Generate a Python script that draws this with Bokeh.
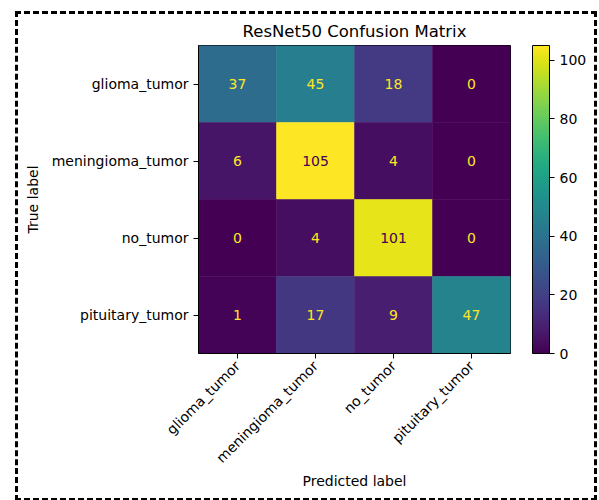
import math
from bokeh.plotting import figure
from bokeh.models import ColumnDataSource, LinearColorMapper, ColorBar, FixedTicker
from bokeh.palettes import Viridis256
from bokeh.embed import file_html
from bokeh.resources import INLINE

# Class names (rows = true label, columns = predicted label)
classes = ["glioma_tumor", "meningioma_tumor", "no_tumor", "pituitary_tumor"]

# Confusion matrix counts, one list per true class
row_glioma = [37, 45, 18, 0]
row_meningioma = [6, 105, 4, 0]
row_no_tumor = [0, 4, 101, 0]
row_pituitary = [1, 17, 9, 47]
matrix = [row_glioma, row_meningioma, row_no_tumor, row_pituitary]

colorbar_ticks = [0, 20, 40, 60, 80, 100]

FONT = "DejaVu Sans"

vmax = max(max(r) for r in matrix)
vmin = min(min(r) for r in matrix)
mapper = LinearColorMapper(palette=Viridis256, low=vmin, high=vmax)
thresh = (vmax + vmin) / 2.0

xs, ys, vals, labels, text_colors = [], [], [], [], []
for i, true_cls in enumerate(classes):
    for j, pred_cls in enumerate(classes):
        v = matrix[i][j]
        xs.append(pred_cls)
        ys.append(true_cls)
        vals.append(v)
        labels.append(str(v))
        text_colors.append(Viridis256[0] if v > thresh else Viridis256[-1])

src = ColumnDataSource(dict(x=xs, y=ys, v=vals, label=labels, tc=text_colors))

p = figure(width=582, height=490,
           x_range=classes, y_range=list(reversed(classes)),
           output_backend="svg", toolbar_location=None,
           title="ResNet50 Confusion Matrix",
           min_border_left=180, min_border_right=90,
           min_border_top=31, min_border_bottom=151,
           styles={"margin-left": "15px", "margin-top": "11px",
                   "border": "3px dashed black"})

cell_color = {"field": "v", "transform": mapper}
p.rect(x="x", y="y", width=1, height=1, source=src,
       fill_color=cell_color, line_color=cell_color, line_width=0.5)
p.text(x="x", y="y", text="label", source=src, text_color="tc",
       text_align="center", text_baseline="middle",
       text_font={"value": FONT}, text_font_size="14px")

p.title.align = "center"
p.title.text_font = FONT
p.title.text_font_size = "16.5px"
p.title.text_font_style = "normal"
p.title.text_color = "#000000"

p.grid.visible = False
p.outline_line_color = "#000000"
p.outline_line_width = 1
p.background_fill_color = "white"
p.border_fill_color = "white"

for ax in (p.xaxis[0], p.yaxis[0]):
    ax.major_label_text_font = FONT
    ax.major_label_text_font_size = "14px"
    ax.major_label_text_color = "#000000"
    ax.axis_label_text_font = FONT
    ax.axis_label_text_font_size = "14px"
    ax.axis_label_text_font_style = "normal"
    ax.axis_label_text_color = "#000000"
    ax.major_tick_out = 5
    ax.major_tick_in = 0
    ax.major_tick_line_color = "#000000"
    ax.axis_line_color = "#000000"

p.xaxis.axis_label = "Predicted label"
p.xaxis.axis_label_standoff = -2
p.yaxis.axis_label = "True label"
p.yaxis.axis_label_standoff = 8
p.xaxis.major_label_orientation = math.pi / 4

color_bar = ColorBar(color_mapper=mapper, width=17, padding=0, margin=0,
                     location=(22, 0),
                     ticker=FixedTicker(ticks=colorbar_ticks),
                     major_tick_out=5, major_tick_in=0,
                     major_tick_line_color="#000000",
                     minor_tick_line_color=None,
                     bar_line_color="#000000",
                     major_label_text_font=FONT,
                     major_label_text_font_size="14px",
                     major_label_text_color="#000000",
                     background_fill_alpha=0)
p.add_layout(color_bar, "right")

open("out.html", "w").write(file_html(p, INLINE))
